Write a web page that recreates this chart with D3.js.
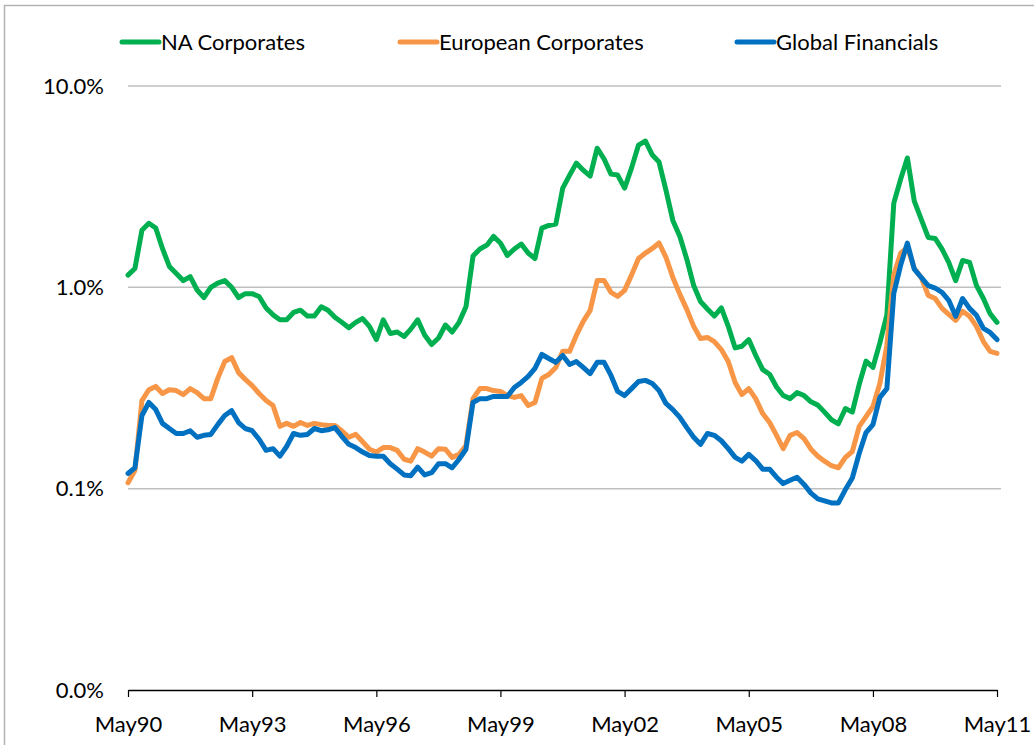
<!DOCTYPE html>
<html>
<head>
<meta charset="utf-8">
<script src="https://cdn.jsdelivr.net/npm/d3@7"></script>
<style>
  body { margin: 0; background: #fff; }
  text { font-family: Lato, "Liberation Sans", sans-serif; fill: #000; }
</style>
</head>
<body>
<div id="chart"></div>
<script>
// series names + colours
const seriesNames = ["NA Corporates", "European Corporates", "Global Financials"];
const seriesColors = ["#00b050", "#f79646", "#0070c0"];

// x tick labels (every 3 years, May)
const tickYears = [1990, 1993, 1996, 1999, 2002, 2005, 2008, 2011];
const tickLabels = ["May90", "May93", "May96", "May99", "May02", "May05", "May08", "May11"];
const yTicks = [10, 1, 0.1, 0.01];

// bi-monthly observations, May 1990 .. May 2011 (values in %)
const naCorporates = [1.15,1.24,1.92,2.08,1.97,1.56,1.27,1.17,1.08,1.13,
  0.97,0.89,1.00,1.05,1.08,1.00,0.89,0.93,0.93,0.90,
  0.79,0.73,0.69,0.69,0.75,0.77,0.72,0.72,0.80,0.77,
  0.71,0.67,0.63,0.67,0.70,0.64,0.55,0.69,0.59,0.60,
  0.57,0.62,0.69,0.58,0.52,0.56,0.65,0.60,0.67,0.80,
  1.43,1.55,1.62,1.79,1.66,1.44,1.55,1.64,1.48,1.39,
  1.97,2.03,2.06,3.11,3.61,4.14,3.82,3.57,4.91,4.34,
  3.65,3.61,3.11,3.91,5.09,5.33,4.54,4.19,3.04,2.15,
  1.79,1.38,1.02,0.85,0.78,0.72,0.79,0.64,0.50,0.51,
  0.55,0.46,0.39,0.37,0.32,0.29,0.28,0.30,0.29,0.27,
  0.26,0.24,0.22,0.21,0.25,0.24,0.33,0.43,0.40,0.53,
  0.73,2.62,3.45,4.39,2.68,2.18,1.77,1.75,1.55,1.33,
  1.08,1.36,1.33,1.02,0.88,0.74,0.67];

const euCorporates = [0.107,0.123,0.274,0.310,0.322,0.297,0.310,0.307,0.293,0.314,
  0.300,0.280,0.280,0.353,0.428,0.448,0.377,0.349,0.325,0.297,
  0.274,0.259,0.204,0.211,0.204,0.213,0.206,0.211,0.208,0.206,
  0.206,0.194,0.180,0.186,0.171,0.157,0.152,0.160,0.160,0.155,
  0.140,0.137,0.158,0.152,0.145,0.158,0.157,0.143,0.148,0.164,
  0.280,0.314,0.314,0.307,0.304,0.290,0.284,0.290,0.259,0.268,
  0.353,0.369,0.400,0.481,0.481,0.577,0.677,0.768,1.08,1.08,
  0.944,0.902,0.966,1.15,1.39,1.48,1.56,1.66,1.41,1.12,
  0.923,0.777,0.640,0.557,0.564,0.538,0.491,0.428,0.337,0.293,
  0.314,0.280,0.236,0.213,0.184,0.158,0.184,0.190,0.177,0.157,
  0.145,0.137,0.130,0.127,0.143,0.153,0.204,0.228,0.256,0.333,
  0.515,1.15,1.48,1.58,1.24,1.12,0.912,0.880,0.786,0.734,
  0.685,0.760,0.718,0.640,0.538,0.481,0.470];

const globalFinancials = [0.119,0.127,0.231,0.268,0.247,0.211,0.199,0.188,0.188,0.194,
  0.180,0.184,0.186,0.208,0.231,0.244,0.213,0.199,0.194,0.176,
  0.155,0.158,0.145,0.162,0.188,0.184,0.186,0.199,0.194,0.196,
  0.201,0.182,0.166,0.160,0.152,0.146,0.145,0.145,0.133,0.125,
  0.117,0.116,0.128,0.117,0.120,0.133,0.133,0.127,0.140,0.157,
  0.268,0.280,0.280,0.287,0.287,0.287,0.318,0.337,0.361,0.396,
  0.464,0.443,0.424,0.459,0.414,0.428,0.400,0.373,0.424,0.424,
  0.365,0.304,0.290,0.314,0.341,0.345,0.333,0.307,0.265,0.247,
  0.226,0.201,0.180,0.166,0.188,0.184,0.173,0.158,0.143,0.137,
  0.148,0.138,0.125,0.125,0.114,0.106,0.110,0.114,0.105,0.095,
  0.089,0.087,0.085,0.085,0.099,0.113,0.150,0.190,0.208,0.284,
  0.314,0.934,1.29,1.66,1.23,1.12,1.02,0.99,0.944,0.862,
  0.718,0.880,0.786,0.726,0.625,0.597,0.550];

const allSeries = [naCorporates, euCorporates, globalFinancials];
const dates = naCorporates.map((d, i) => new Date(1990, 4 + 2 * i, 1));

const svgWidth = 1034;
const svgHeight = 745;
const margin = { top: 86, right: 37, bottom: 55, left: 128 };
const width = svgWidth - margin.left - margin.right;
const height = svgHeight - margin.top - margin.bottom;

const svg = d3.select("#chart").append("svg")
  .attr("width", svgWidth)
  .attr("height", svgHeight);

// outer frame
svg.append("rect")
  .attr("x", 4.5).attr("y", 5.5)
  .attr("width", svgWidth + 20).attr("height", svgHeight + 20)
  .attr("fill", "none")
  .attr("stroke", "#b3b3b3")
  .attr("stroke-width", 1.5);

const chartGroup = svg.append("g")
  .attr("transform", `translate(${margin.left}, ${margin.top})`);

const xScale = d3.scaleTime()
  .domain([new Date(1990, 4, 1), new Date(2011, 4, 1)])
  .range([0, width]);

const yScale = d3.scaleLog()
  .domain([0.01, 10])
  .range([height, 0]);

// gridlines (not at the bottom)
chartGroup.selectAll(".grid")
  .data(yTicks.slice(0, 3))
  .enter().append("line")
  .attr("x1", 0).attr("x2", width + 4)
  .attr("y1", d => yScale(d)).attr("y2", d => yScale(d))
  .attr("stroke", "#bfbfbf")
  .attr("stroke-width", 1.5);

// y axis labels
const yAxis = d3.axisLeft(yScale)
  .tickValues(yTicks)
  .tickSize(0)
  .tickPadding(24)
  .tickFormat(d => d.toFixed(1) + "%");

const yG = chartGroup.append("g").call(yAxis);
yG.select(".domain").remove();
yG.selectAll("text").style("font-size", "22px").attr("font-family", null);

// x axis
const xAxis = d3.axisBottom(xScale)
  .tickValues(tickYears.map(y => new Date(y, 4, 1)))
  .tickSize(7)
  .tickSizeOuter(0)
  .tickPadding(19)
  .tickFormat((d, i) => tickLabels[i]);

const xG = chartGroup.append("g")
  .attr("transform", `translate(0, ${height})`)
  .call(xAxis);
xG.select(".domain").attr("stroke", "#000").attr("stroke-width", 1.5);
xG.selectAll(".tick line").attr("stroke", "#000").attr("stroke-width", 1.2);
xG.selectAll("text").style("font-size", "22px").attr("font-family", null);

// series lines
const line = d3.line()
  .x((d, i) => xScale(dates[i]))
  .y(d => yScale(d));

chartGroup.selectAll(".series")
  .data(allSeries)
  .enter().append("path")
  .attr("class", "series")
  .attr("d", line)
  .attr("fill", "none")
  .attr("stroke", (d, i) => seriesColors[i])
  .attr("stroke-width", 5)
  .attr("stroke-linejoin", "round")
  .attr("stroke-linecap", "round");

// legend
const legendX = [122, 400, 737];
const legend = svg.selectAll(".legend")
  .data(seriesNames)
  .enter().append("g")
  .attr("class", "legend")
  .attr("transform", (d, i) => `translate(${legendX[i]}, 42)`);

legend.append("line")
  .attr("x1", 0).attr("x2", 37)
  .attr("stroke", (d, i) => seriesColors[i])
  .attr("stroke-width", 5)
  .attr("stroke-linecap", "round");

legend.append("text")
  .attr("x", 39)
  .attr("dy", "0.35em")
  .style("font-size", "22px")
  .text(d => d);
</script>
</body>
</html>
